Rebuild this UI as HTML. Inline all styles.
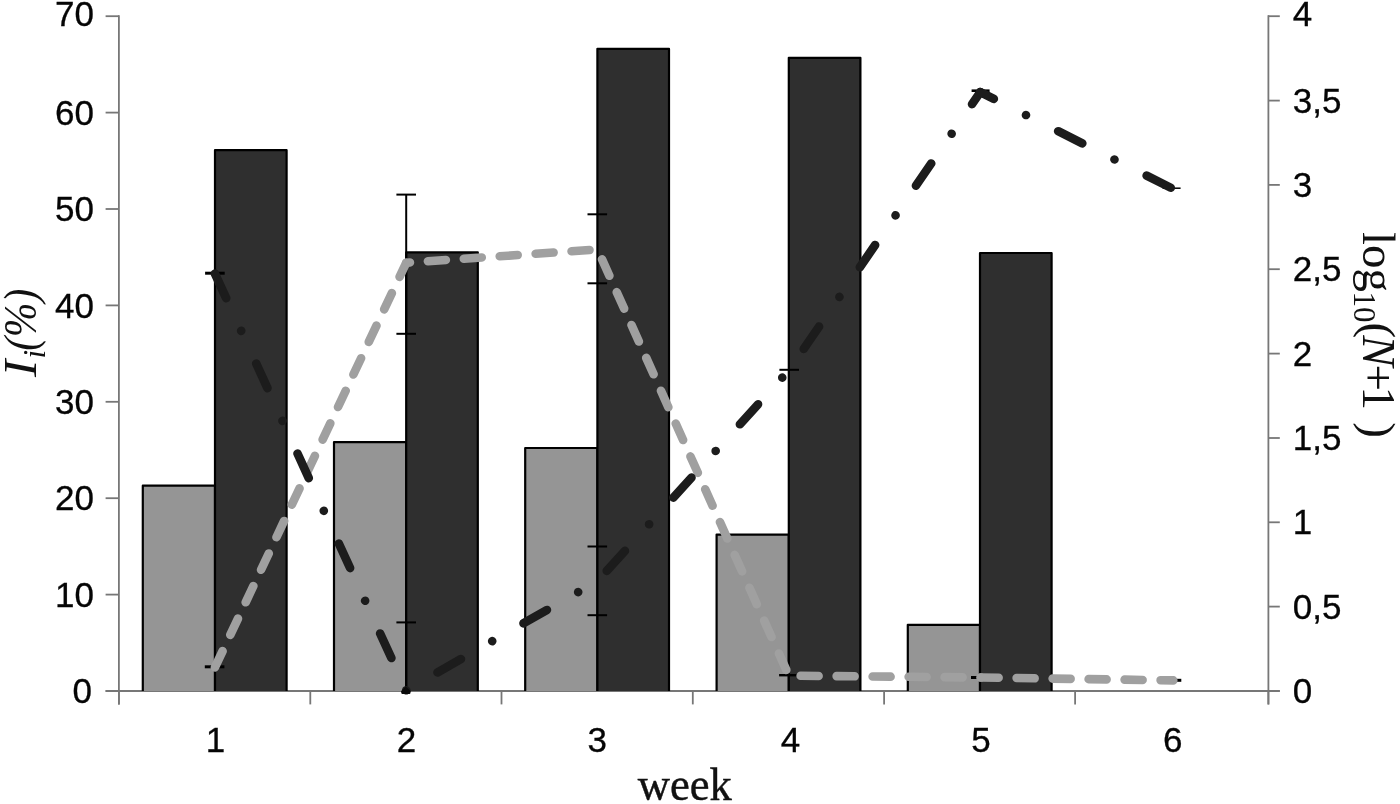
<!DOCTYPE html>
<html><head><meta charset="utf-8"><title>chart</title>
<style>
html,body{margin:0;padding:0;background:#fff;}
body{width:1400px;height:804px;overflow:hidden;position:relative;font-family:"Liberation Sans",sans-serif;}
svg{position:absolute;left:0;top:0;display:block;filter:grayscale(1) blur(0.5px);}
.t{font-family:"Liberation Sans",sans-serif;font-size:35px;fill:#050505;stroke:#050505;stroke-width:0.3px;}
.s{font-family:"Liberation Serif",serif;fill:#111;}
</style></head><body>
<svg width="1400" height="804" viewBox="0 0 1400 804">
<rect width="1400" height="804" fill="#ffffff"/>

<g stroke="#777777" stroke-width="1.8" fill="none">
<line x1="118.9" y1="15.2" x2="118.9" y2="704.4"/>
<line x1="1268.4" y1="15.2" x2="1268.4" y2="704.4"/>
<line x1="105.6" y1="691.0" x2="1279.8" y2="691.0"/>
<line x1="105.6" y1="691.0" x2="119" y2="691.0"/>
<line x1="105.6" y1="594.6" x2="119" y2="594.6"/>
<line x1="105.6" y1="498.2" x2="119" y2="498.2"/>
<line x1="105.6" y1="401.8" x2="119" y2="401.8"/>
<line x1="105.6" y1="305.4" x2="119" y2="305.4"/>
<line x1="105.6" y1="209.0" x2="119" y2="209.0"/>
<line x1="105.6" y1="112.6" x2="119" y2="112.6"/>
<line x1="105.6" y1="16.2" x2="119" y2="16.2"/>
<line x1="1268" y1="691.0" x2="1279.8" y2="691.0"/>
<line x1="1268" y1="606.6" x2="1279.8" y2="606.6"/>
<line x1="1268" y1="522.3" x2="1279.8" y2="522.3"/>
<line x1="1268" y1="438.0" x2="1279.8" y2="438.0"/>
<line x1="1268" y1="353.6" x2="1279.8" y2="353.6"/>
<line x1="1268" y1="269.2" x2="1279.8" y2="269.2"/>
<line x1="1268" y1="184.9" x2="1279.8" y2="184.9"/>
<line x1="1268" y1="100.6" x2="1279.8" y2="100.6"/>
<line x1="1268" y1="16.2" x2="1279.8" y2="16.2"/>
<line x1="118.9" y1="691.0" x2="118.9" y2="704.4"/>
<line x1="310.3" y1="691.0" x2="310.3" y2="704.4"/>
<line x1="501.5" y1="691.0" x2="501.5" y2="704.4"/>
<line x1="692.8" y1="691.0" x2="692.8" y2="704.4"/>
<line x1="884.1" y1="691.0" x2="884.1" y2="704.4"/>
<line x1="1075.1" y1="691.0" x2="1075.1" y2="704.4"/>
<line x1="1268.4" y1="691.0" x2="1268.4" y2="704.4"/>
</g>
<g stroke="#000" stroke-width="2.2" stroke-linejoin="round" stroke-linecap="butt">
<path d="M142.8,691.0 L142.8,485.7 L215.0,485.7 L215.0,691.0" fill="#959595"/>
<path d="M215.0,691.0 L215.0,150.2 L286.6,150.2 L286.6,691.0" fill="#2f2f2f"/>
<path d="M334.0,691.0 L334.0,442.2 L406.2,442.2 L406.2,691.0" fill="#959595"/>
<path d="M406.2,691.0 L406.2,252.4 L477.8,252.4 L477.8,691.0" fill="#2f2f2f"/>
<path d="M525.2,691.0 L525.2,448.0 L597.4,448.0 L597.4,691.0" fill="#959595"/>
<path d="M597.4,691.0 L597.4,48.8 L669.0,48.8 L669.0,691.0" fill="#2f2f2f"/>
<path d="M716.6,691.0 L716.6,534.6 L788.8,534.6 L788.8,691.0" fill="#959595"/>
<path d="M788.8,691.0 L788.8,57.8 L860.4,57.8 L860.4,691.0" fill="#2f2f2f"/>
<path d="M907.8,691.0 L907.8,624.8 L980.0,624.8 L980.0,691.0" fill="#959595"/>
<path d="M980.0,691.0 L980.0,253.0 L1051.6,253.0 L1051.6,691.0" fill="#2f2f2f"/>
</g>
<g stroke="#000" stroke-width="2" fill="none">
<line x1="204.8" y1="666.8" x2="224.4" y2="666.8" stroke-width="3"/>
<line x1="406.2" y1="194.6" x2="406.2" y2="333.8"/>
<line x1="396.4" y1="194.6" x2="416.0" y2="194.6"/>
<line x1="396.4" y1="333.8" x2="416.0" y2="333.8"/>
<line x1="587.5" y1="214.3" x2="607.1" y2="214.3"/>
<line x1="587.5" y1="283.3" x2="607.1" y2="283.3"/>
<line x1="779.1" y1="675.2" x2="798.7" y2="675.2" stroke-width="2.4"/>
<line x1="971.0" y1="677.5" x2="990.6" y2="677.5" stroke-width="3"/>
<line x1="1163.7" y1="680.3" x2="1181.3" y2="680.3" stroke-width="3"/>
</g>
<polyline points="214.9,667.4 406.2,262.8" fill="none" stroke="#a0a0a0" stroke-width="8.6" stroke-linecap="round" stroke-linejoin="round" stroke-dasharray="18 18" stroke-dashoffset="0.00"/>
<polyline points="406.2,262.8 597.6,249.5" fill="none" stroke="#a0a0a0" stroke-width="8.6" stroke-linecap="round" stroke-linejoin="round" stroke-dasharray="18 18" stroke-dashoffset="14.25"/>
<polyline points="597.6,249.5 788.9,675.7" fill="none" stroke="#a0a0a0" stroke-width="8.6" stroke-linecap="round" stroke-linejoin="round" stroke-dasharray="18 18" stroke-dashoffset="25.21"/>
<polyline points="788.9,675.7 980.8,677.5" fill="none" stroke="#a0a0a0" stroke-width="8.6" stroke-linecap="round" stroke-linejoin="round" stroke-dasharray="18 18" stroke-dashoffset="24.27"/>
<polyline points="980.8,677.5 1173.3,680.4" fill="none" stroke="#a0a0a0" stroke-width="8.6" stroke-linecap="round" stroke-linejoin="round" stroke-dasharray="18 18" stroke-dashoffset="0.18"/>
<g stroke="#000" stroke-width="2" fill="none">
<line x1="205.1" y1="273.2" x2="224.7" y2="273.2" stroke-width="3"/>
<line x1="406.2" y1="622.4" x2="406.2" y2="691"/>
<line x1="396.4" y1="622.4" x2="416.0" y2="622.4"/>
<line x1="587.5" y1="546.5" x2="607.1" y2="546.5"/>
<line x1="587.5" y1="615.2" x2="607.1" y2="615.2"/>
<line x1="779.4" y1="369.8" x2="799.0" y2="369.8"/>
<line x1="971.6" y1="90.7" x2="989.6" y2="90.7" stroke-width="2.6"/>
<line x1="1162.6" y1="188.2" x2="1180.6" y2="188.2" stroke-width="1.5"/>
</g>
<polyline points="214.9,273.6 406.2,690.3" fill="none" stroke="#1c1c1c" stroke-width="8.6" stroke-linecap="round" stroke-linejoin="round" stroke-dasharray="27 36 0.01 36" stroke-dashoffset="0.00"/>
<polyline points="406.2,690.3 597.6,581.0" fill="none" stroke="#1c1c1c" stroke-width="8.6" stroke-linecap="round" stroke-linejoin="round" stroke-dasharray="27 36 0.01 36" stroke-dashoffset="62.97"/>
<polyline points="597.6,581.0 789.2,370.0" fill="none" stroke="#1c1c1c" stroke-width="8.6" stroke-linecap="round" stroke-linejoin="round" stroke-dasharray="27 36 0.01 36" stroke-dashoffset="85.36"/>
<polyline points="789.2,370.0 980.3,92.1" fill="none" stroke="#1c1c1c" stroke-width="8.6" stroke-linecap="round" stroke-linejoin="round" stroke-dasharray="27 36 0.01 36" stroke-dashoffset="73.34"/>
<polyline points="980.3,92.1 1174.2,189.5" fill="none" stroke="#1c1c1c" stroke-width="8.6" stroke-linecap="round" stroke-linejoin="round" stroke-dasharray="27 36 0.01 36" stroke-dashoffset="11.87"/>
<path d="M401.0,691.2 L405.9,686.6 L410.8,691.2 L410.4,693.2 Q410.2,693.9 409.4,693.9 L402.4,693.9 Q401.6,693.9 401.4,693.2 Z" fill="#0a0a0a"/>
<text class="t" x="92" y="703.2" text-anchor="end">0</text>
<text class="t" x="94" y="606.8" text-anchor="end">10</text>
<text class="t" x="94" y="510.4" text-anchor="end">20</text>
<text class="t" x="94" y="414.0" text-anchor="end">30</text>
<text class="t" x="94" y="317.6" text-anchor="end">40</text>
<text class="t" x="94" y="221.2" text-anchor="end">50</text>
<text class="t" x="94" y="124.8" text-anchor="end">60</text>
<text class="t" x="94" y="26.4" text-anchor="end">70</text>
<text class="t" x="1292.8" y="703.1">0</text>
<text class="t" x="1292.8" y="618.8">0,5</text>
<text class="t" x="1292.8" y="534.4">1</text>
<text class="t" x="1292.8" y="450.1">1,5</text>
<text class="t" x="1292.8" y="365.7">2</text>
<text class="t" x="1292.8" y="281.4">2,5</text>
<text class="t" x="1292.8" y="197.0">3</text>
<text class="t" x="1292.8" y="112.7">3,5</text>
<text class="t" x="1292.8" y="25.8">4</text>
<text class="t" x="215.4" y="752" text-anchor="middle">1</text>
<text class="t" x="406.6" y="752" text-anchor="middle">2</text>
<text class="t" x="597.2" y="752" text-anchor="middle">3</text>
<text class="t" x="790.6" y="752" text-anchor="middle">4</text>
<text class="t" x="981.0" y="752" text-anchor="middle">5</text>
<text class="t" x="1172.8" y="752" text-anchor="middle">6</text>
<text class="s" transform="translate(684.8,799.7) scale(0.962,1)" font-size="46.4" text-anchor="middle" stroke="#111" stroke-width="0.45">week</text>
<g class="s" font-size="47" font-style="italic" transform="translate(36,377) rotate(-90)"><text transform="scale(1.1,1)" x="0" y="0">I</text><text x="18.4" y="8.5" font-size="31">i</text><text transform="translate(26.2,0) scale(0.88,1)">(%)</text></g>
<text class="s" font-size="47" transform="translate(1363.3,232) rotate(90)">log<tspan font-size="31" dy="9" dx="-0.5">10</tspan><tspan dy="-9">(</tspan><tspan font-style="italic" dx="-3">N</tspan><tspan dx="-2.2">+</tspan><tspan dx="-4.5">1</tspan><tspan dx="0.7"> )</tspan></text>
</svg></body></html>
